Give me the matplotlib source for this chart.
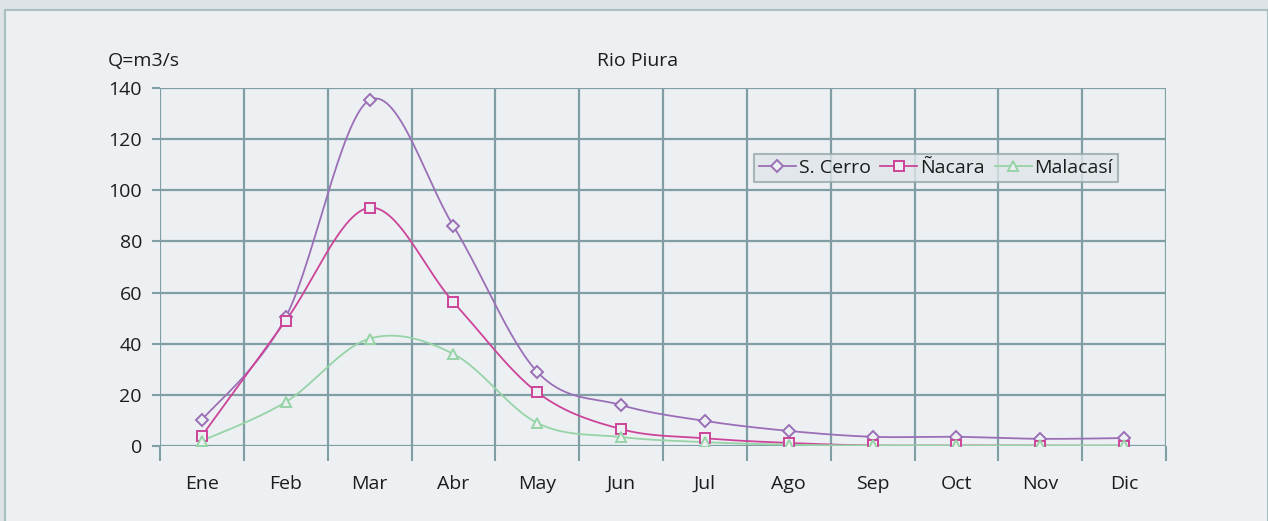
import numpy as np
import matplotlib
matplotlib.use("Agg")
import matplotlib.pyplot as plt
from matplotlib.patches import Rectangle

months = ["Ene", "Feb", "Mar", "Abr", "May", "Jun", "Jul", "Ago", "Sep", "Oct", "Nov", "Dic"]
s_cerro = [10.2, 50.4, 135.3, 86.0, 29.0, 16.0, 9.8, 5.9, 3.6, 3.6, 2.8, 3.1]
nacara = [4.0, 49.0, 93.2, 56.3, 21.0, 6.6, 3.0, 1.2, 0.2, 0.2, 0.1, 0.1]
malacasi = [2.0, 17.2, 42.0, 36.0, 9.0, 3.5, 1.5, 0.5, 0.2, 0.2, 0.2, 0.2]
series_names = ["S. Cerro", "Ñacara", "Malacasí"]
y_ticks = [0, 20, 40, 60, 80, 100, 120, 140]

plt.rcParams['font.family'] = ['Open Sans', 'DejaVu Sans']
FS = 14

W, H = 1268, 521
fig = plt.figure(figsize=(W / 100, H / 100), dpi=100)
fig.patch.set_facecolor("#dde3e6")
panel = Rectangle((4.5 / W, -0.01), 1 - 5 / W, 1.01 - 9.5 / H, transform=fig.transFigure,
                  facecolor="#edf0f3", edgecolor="#a9bfc2", linewidth=1.5, zorder=-10)
fig.add_artist(panel)

ax = fig.add_axes([160 / W, 1 - 446 / H, (1166 - 160) / W, (446 - 88) / H])
ax.patch.set_alpha(0)

grid_c = "#7f9fa5"


def smooth(xs, ys, n=30):
    # Excel-like smoothed line (Catmull-Rom Bezier)
    xs = np.asarray(xs, float)
    ys = np.asarray(ys, float)
    px, py = [], []
    m = len(xs)
    for i in range(m - 1):
        x0, y0 = (xs[i - 1], ys[i - 1]) if i > 0 else (xs[i], ys[i])
        x1, y1 = xs[i], ys[i]
        x2, y2 = xs[i + 1], ys[i + 1]
        x3, y3 = (xs[i + 2], ys[i + 2]) if i + 2 < m else (x2, y2)
        c1x, c1y = x1 + (x2 - x0) / 6, y1 + (y2 - y0) / 6
        c2x, c2y = x2 - (x3 - x1) / 6, y2 - (y3 - y1) / 6
        t = np.linspace(0, 1, n)
        bx = (1 - t) ** 3 * x1 + 3 * (1 - t) ** 2 * t * c1x + 3 * (1 - t) * t ** 2 * c2x + t ** 3 * x2
        by = (1 - t) ** 3 * y1 + 3 * (1 - t) ** 2 * t * c1y + 3 * (1 - t) * t ** 2 * c2y + t ** 3 * y2
        px.extend(bx)
        py.extend(by)
    return np.array(px), np.array(py)


x = np.arange(len(months)) + 0.5
styles = [
    (s_cerro, "#9b6fb6", "D", 6.5),
    (nacara, "#cc4499", "s", 6.5),
    (malacasi, "#96d3a6", "^", 7.5),
]
handles = []
for (vals, col, mk, ms), name in zip(styles, series_names):
    sx, sy = smooth(x, vals)
    ax.plot(sx, sy, color=col, lw=1.3, zorder=3)
    ax.plot(x, vals, linestyle="none", marker=mk, markersize=ms,
            markerfacecolor="#edf0f3", markeredgecolor=col, markeredgewidth=1.4, zorder=4)
    h, = ax.plot([], [], color=col, lw=1.3, marker=mk, markersize=ms,
                 markerfacecolor="#edf0f3", markeredgecolor=col, markeredgewidth=1.4)
    handles.append(h)

ax.set_xlim(0, 12)
ax.set_ylim(0, 140)
ax.set_yticks(y_ticks)
ax.set_yticklabels([str(v) for v in y_ticks])
ax.set_xticks(x)
ax.set_xticklabels(months)
ax.set_xticks(np.arange(0, 13), minor=True)
ax.tick_params(axis="x", which="major", length=0, pad=21, labelsize=FS, colors="#1c1c1c")
ax.tick_params(axis="x", which="minor", length=11, width=1.5, color=grid_c)
ax.tick_params(axis="y", length=6, width=1.5, color=grid_c, pad=7, labelsize=FS, labelcolor="#1c1c1c")

for v in y_ticks:
    ax.axhline(v, color=grid_c, lw=1.6, zorder=1)
for v in range(0, 13):
    ax.axvline(v, color=grid_c, lw=1.6, zorder=1)
for s in ax.spines.values():
    s.set_visible(False)

fig.text(638 / W, 1 - 61 / H, "Rio Piura", ha="center", va="center", fontsize=FS, color="#1c1c1c")
fig.text(108 / W, 1 - 61 / H, "Q=m3/s", ha="left", va="center", fontsize=FS, color="#1c1c1c")

leg = fig.legend(handles, series_names, loc="center", bbox_to_anchor=(936 / W, 1 - 168 / H),
                 ncol=3, frameon=True, fontsize=FS, handlelength=1.9, handletextpad=0.15,
                 columnspacing=0.5, borderpad=0.25, fancybox=False, borderaxespad=0)
leg.get_frame().set_facecolor("#dfe5e8")
leg.get_frame().set_edgecolor("#98a8ac")
leg.get_frame().set_linewidth(1.5)
for t in leg.get_texts():
    t.set_color("#1c1c1c")

fig.savefig("out.png", dpi=100, facecolor=fig.get_facecolor())
